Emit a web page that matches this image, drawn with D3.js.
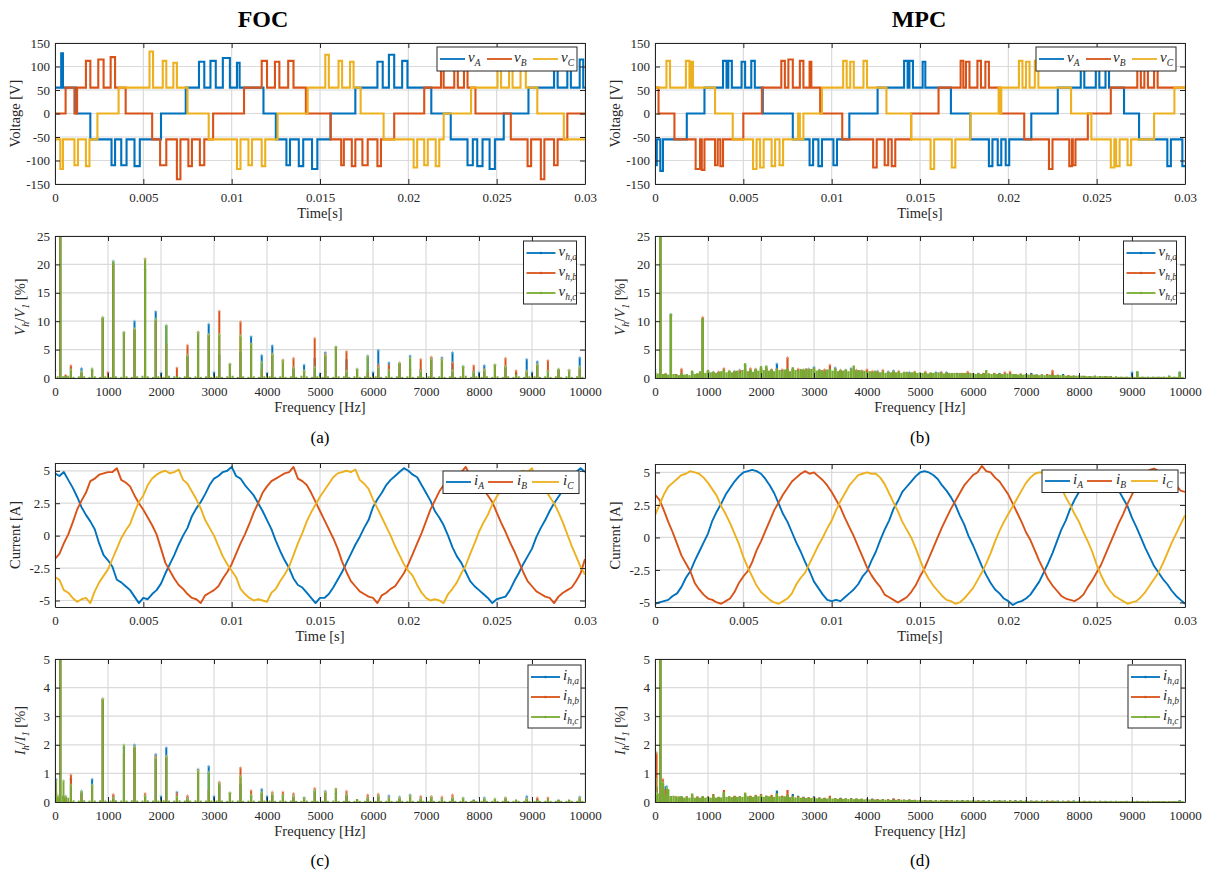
<!DOCTYPE html>
<html>
<head>
<meta charset="utf-8">
<script src="https://cdn.jsdelivr.net/npm/d3@7"></script>
<style>
  body { margin: 0; background: #fff; }
  text { font-family: 'Liberation Serif', 'Times New Roman', Times, serif; }
</style>
</head>
<body>
<svg width="1213" height="877"></svg>
<script>
// ---------- tick labels ----------
const timeTicks = [0, 5, 10, 15, 20, 25, 30];               // ms
const timeTickLabels = ["0", "0.005", "0.01", "0.015", "0.02", "0.025", "0.03"];
const voltTicks = [-150, -100, -50, 0, 50, 100, 150];
const curTicks = [-5, -2.5, 0, 2.5, 5];
const freqTicks = [0, 1000, 2000, 3000, 4000, 5000, 6000, 7000, 8000, 9000, 10000];
const vSpecTicks = [0, 5, 10, 15, 20, 25];
const iSpecTicks = [0, 1, 2, 3, 4, 5];

// ---------- phase voltages, [time ms, level V] switching points ----------
const focVoltA = [[0,55],[0.35,128],[0.45,55],[1.2,0],[2.0,-55],[3.2,-110],[3.4,-55],[3.75,-110],[4.05,-55],[4.5,-112],[4.8,-55],[6.0,0],[7.4,55],[8.15,110],[8.45,55],[8.8,112],[9.1,55],[9.5,118],[9.9,55],[10.3,108],[10.45,55],[11.8,0],[12.5,-55],[13.1,-110],[13.3,-55],[13.8,-112],[14.05,-55],[14.55,-118],[14.85,-55],[15.6,0],[17.0,55],[18.25,110],[18.55,55],[18.9,125],[19.2,55],[19.65,112],[19.95,55],[21.3,0],[22.4,-55],[23.35,-110],[23.65,-55],[23.9,-112],[24.2,-55],[24.6,-118],[24.9,-55],[25.4,0],[26.8,55],[28.25,110],[28.45,55],[29.0,112],[29.2,55],[29.7,115],[29.9,55]];
const focVoltB = [[0,0],[0.6,55],[1.1,0],[1.25,55],[1.75,112],[2.0,55],[2.45,115],[2.75,55],[3.15,120],[3.4,55],[4.0,0],[5.5,-55],[5.95,-110],[6.3,-55],[6.9,-140],[7.1,-55],[7.55,-112],[7.75,-55],[8.2,-110],[8.45,-55],[8.95,0],[10.7,55],[11.7,112],[12.0,55],[12.45,110],[12.7,55],[13.2,112],[13.5,55],[14.2,0],[15.6,-55],[16.2,-110],[16.35,-55],[16.8,-112],[17.0,-55],[17.4,-110],[17.7,-55],[18.25,-112],[18.45,-55],[19.2,0],[20.9,55],[21.85,110],[22.0,55],[22.6,112],[22.8,55],[23.15,110],[23.35,55],[23.8,0],[25.8,-55],[26.75,-112],[26.95,-55],[27.5,-140],[27.7,-55],[28.25,-110],[28.45,-55],[29.0,0]];
const focVoltC = [[0,-55],[0.3,-118],[0.45,-55],[1.1,-110],[1.3,-55],[1.75,-112],[1.95,-55],[2.4,0],[3.6,55],[5.35,132],[5.55,55],[6.1,112],[6.3,55],[6.7,108],[6.9,55],[7.5,0],[8.7,-55],[10.3,-118],[10.5,-55],[10.95,-110],[11.15,-55],[11.7,-112],[11.9,-55],[12.6,0],[14.3,55],[15.3,125],[15.5,55],[16.05,112],[16.25,55],[16.7,110],[16.9,55],[17.3,0],[18.6,-55],[20.3,-115],[20.5,-55],[20.9,-110],[21.1,-55],[21.55,-112],[21.75,-55],[22.0,0],[23.55,55],[25.05,112],[25.25,55],[25.7,115],[25.9,55],[26.35,110],[26.65,55],[27.3,0],[28.8,-55]];

const mpcVoltA = [[0,-110],[0.1,-55],[0.3,-122],[0.45,-55],[1.8,0],[2.8,55],[3.85,112],[4.05,55],[4.15,112],[4.35,55],[4.9,110],[5.1,55],[5.45,112],[5.65,55],[6.1,0],[7.8,-55],[8.75,-110],[8.95,-55],[9.25,-112],[9.45,-55],[10.1,-110],[10.3,-55],[11.0,0],[12.6,55],[14.1,112],[14.3,55],[14.4,112],[14.6,55],[15.15,110],[15.3,55],[16.75,0],[17.85,-55],[18.9,-112],[19.1,-55],[19.4,-110],[19.6,-55],[19.85,-110],[20.05,-55],[21.3,0],[22.8,55],[24.1,112],[24.3,55],[24.95,110],[25.15,55],[25.5,112],[25.7,55],[26.55,0],[27.4,-55],[29.0,-112],[29.2,-55],[29.85,-112]];
const mpcVoltB = [[0,55],[0.2,0],[1.1,-55],[2.3,-118],[2.55,-55],[2.65,-120],[2.8,-55],[3.4,-110],[3.55,-55],[3.7,-112],[3.85,-55],[5.0,0],[6.05,55],[7.15,112],[7.35,55],[7.55,115],[7.8,55],[8.2,112],[8.4,55],[8.75,110],[8.85,55],[9.35,0],[10.6,-55],[12.35,-115],[12.55,-55],[13.0,-110],[13.2,-55],[13.4,-112],[13.6,-55],[14.5,0],[16.05,55],[17.3,112],[17.45,55],[17.6,110],[17.8,55],[18.25,112],[18.45,55],[18.7,110],[18.9,55],[19.55,0],[20.9,-55],[22.3,-118],[22.5,-55],[23.45,-112],[23.6,-55],[23.65,-110],[23.8,-55],[24.5,0],[25.8,55],[27.3,112],[27.5,55],[27.7,110],[27.9,55],[28.25,112],[28.45,55]];
const mpcVoltC = [[0,55],[0.65,112],[0.85,55],[1.75,112],[1.95,55],[2.05,110],[2.15,55],[3.4,0],[4.4,-55],[5.55,-118],[5.75,-55],[5.95,-115],[6.15,-55],[6.6,-112],[6.8,-55],[7.05,-110],[7.25,-55],[8.1,0],[8.2,-55],[8.4,0],[9.45,55],[10.65,112],[10.85,55],[11.05,110],[11.25,55],[11.8,112],[12.0,55],[13.1,0],[14.5,-55],[15.6,-118],[15.8,-55],[16.8,-115],[17.0,-55],[17.85,0],[19.45,55],[19.55,0],[19.6,55],[20.6,112],[20.8,55],[21.0,110],[21.2,55],[21.5,112],[21.7,55],[23.55,0],[24.7,-55],[25.8,-115],[26.0,-55],[26.1,-112],[26.3,-55],[26.75,-110],[26.95,-55],[28.25,0],[29.4,55]];

// ---------- phase currents, one sample every 0.25 ms (A) ----------
const currentStepMs = 0.25;
const focCurA = [4.8,4.6,4.9,4.3,3.7,3.0,2.2,1.6,1.1,0.5, -0.6,-1.5,-1.9,-2.4,-3.4,-3.6,-3.9,-4.2,-4.7,-5.2, -4.8,-4.9,-4.5,-4.2,-3.7,-2.9,-2.2,-1.5,-0.7,0.0, 0.6,1.5,2.1,2.6,3.2,3.9,4.4,4.6,4.9,5.0, 5.3,4.6,4.4,3.9,3.5,3.1,2.5,1.9,1.2,0.5, -0.4,-1.2,-1.9,-2.5,-3.3,-3.8,-4.0,-4.4,-4.8,-5.2, -4.8,-4.8,-4.5,-4.0,-3.4,-2.8,-2.1,-1.4,-0.7,-0.1, 0.6,1.2,2.2,2.8,3.3,3.9,4.3,4.6,4.9,5.2, 5.0,4.7,4.5,3.9,3.3,2.7,1.9,1.4,0.8,0.0, -0.9,-1.6,-2.1,-2.8,-3.5,-3.9,-4.2,-4.5,-4.8,-5.2, -4.9,-4.8,-4.7,-4.2,-3.5,-2.9,-2.2,-1.6,-1.0,-0.1, 0.6,1.2,1.9,2.5,3.0,3.5,4.0,4.5,4.9,5.2, 4.9];
const focCurB = [-1.8,-1.4,-0.6,0.1,1.0,2.0,2.7,3.3,4.2,4.4, 4.7,4.8,4.9,4.9,5.2,4.3,4.1,3.8,3.1,2.5, 2.0,1.4,0.8,0.1,-1.0,-2.1,-2.7,-3.3,-3.8,-4.1, -4.5,-4.8,-4.9,-5.2,-4.6,-4.4,-4.2,-3.9,-3.3,-2.8, -2.2,-1.4,-0.6,0.1,0.9,1.8,2.5,3.3,3.8,4.2, 4.4,4.6,4.8,4.9,5.3,4.4,4.2,3.9,3.3,2.6, 1.9,1.2,0.5,-0.2,-1.0,-2.0,-2.8,-3.5,-3.9,-4.3, -4.5,-4.7,-4.8,-5.2,-4.6,-4.4,-4.1,-3.9,-3.4,-2.9, -2.2,-1.4,-0.6,0.2,1.1,2.0,2.7,3.4,3.9,4.3, 4.5,4.7,4.9,5.3,4.6,4.3,4.1,3.6,3.1,2.6, 1.8,1.0,0.3,-0.5,-1.2,-2.0,-2.8,-3.5,-3.9,-4.3, -4.5,-4.7,-4.8,-5.2,-4.7,-4.4,-4.2,-4.0,-3.5,-2.9, -1.8];
const focCurC = [-3.2,-3.4,-4.2,-4.4,-4.8,-5.1,-4.9,-4.8,-5.2,-4.3, -3.6,-3.1,-2.6,-1.8,-1.0,-0.2,0.4,0.9,1.8,2.6, 3.1,3.9,4.4,4.7,4.9,5.0,4.8,4.9,5.1,4.3, 4.0,3.4,2.8,2.1,1.2,0.6,0.0,-0.8,-1.6,-2.2, -2.7,-3.2,-4.1,-4.5,-4.8,-5.0,-4.9,-5.0,-5.1,-4.4, -4.1,-3.5,-3.0,-2.4,-1.5,-0.6,0.2,1.1,1.8,2.4, 3.0,3.5,4.0,4.5,4.8,4.9,5.0,4.9,5.1,4.3, 4.0,3.6,2.8,2.1,1.4,0.7,0.0,-0.8,-1.5,-2.2, -2.7,-3.1,-3.8,-4.4,-4.8,-5.0,-4.9,-5.0,-5.2,-4.5, -4.1,-3.6,-2.9,-2.3,-1.4,-0.6,0.3,1.0,1.6,2.4, 3.0,3.5,4.1,4.6,4.8,4.9,5.0,4.9,5.2,4.2, 3.9,3.6,3.0,2.5,1.8,1.0,0.1,-0.8,-1.6,-2.4, -3.0];
const mpcCurA = [-5.1,-5.0,-4.9,-4.8,-4.5,-4.3,-3.8,-3.1,-2.6,-1.8, -1.1,-0.4,0.3,1.3,2.0,2.6,3.3,3.8,4.3,4.7, 5.0,5.1,5.2,5.1,4.9,4.5,4.0,3.4,2.6,1.8, 1.2,0.4,-0.4,-1.1,-1.9,-2.6,-3.4,-3.9,-4.4,-4.8, -4.9,-4.8,-4.9,-4.6,-4.3,-4.0,-3.6,-3.0,-2.6,-1.8, -1.1,-0.2,0.6,1.3,2.2,2.8,3.5,3.9,4.3,4.7, 5.0,5.1,5.0,4.8,4.5,4.0,3.6,3.1,2.5,1.7, 1.0,0.1,-0.6,-1.4,-2.2,-2.9,-3.5,-4.0,-4.3,-4.7, -4.9,-5.2,-5.0,-4.9,-4.7,-4.4,-3.9,-3.4,-2.7,-2.0, -1.2,-0.3,0.6,1.3,2.2,2.9,3.5,3.9,4.3,4.7, 4.9,5.0,4.8,4.5,4.1,3.6,3.0,2.4,1.5,0.8, 0.0,-0.8,-1.5,-2.2,-2.7,-3.2,-3.6,-4.1,-4.5,-4.8, -5.1];
const mpcCurB = [3.3,2.9,2.1,1.2,0.4,-0.5,-1.4,-2.0,-2.6,-3.5, -4.0,-4.4,-4.7,-4.8,-5.0,-5.1,-4.9,-4.7,-4.2,-3.5, -3.0,-2.6,-1.9,-1.0,-0.3,0.5,1.3,2.1,2.7,3.3, 3.8,4.3,4.6,4.9,5.1,4.9,5.0,4.7,4.4,4.0, 3.5,2.9,2.3,1.5,0.8,0.1,-0.7,-1.5,-2.3,-2.9, -3.4,-3.8,-4.4,-4.6,-4.8,-5.0,-4.8,-4.6,-4.2,-3.7, -3.0,-2.4,-1.6,-0.8,0.0,0.8,1.5,2.2,2.8,3.4, 4.0,4.4,4.8,5.0,5.5,5.1,5.0,4.6,4.3,3.8, 3.3,2.6,1.9,1.2,0.4,-0.2,-1.0,-1.8,-2.5,-3.2, -3.7,-4.1,-4.5,-4.7,-4.8,-4.9,-4.7,-4.4,-3.8,-3.3, -2.7,-2.1,-1.3,-0.5,0.3,1.1,1.8,2.6,3.3,3.9, 4.5,4.9,5.2,5.3,5.1,4.9,4.6,4.3,4.0,3.6, 3.5];
const mpcCurC = [1.7,2.5,3.3,3.9,4.2,4.5,4.8,4.9,5.1,5.0, 4.9,4.6,4.2,3.7,3.2,2.4,1.8,1.1,0.3,-0.5, -1.5,-2.3,-3.0,-3.7,-4.2,-4.5,-4.8,-5.0,-5.1,-4.9, -4.7,-4.3,-3.6,-3.1,-2.7,-2.0,-1.3,-0.6,0.0,0.7, 1.3,2.1,2.8,3.4,4.0,4.4,4.8,4.9,5.0,4.9, 4.9,4.6,4.1,3.4,2.7,2.0,1.2,0.6,0.0,-0.8, -1.7,-2.6,-3.2,-3.7,-4.1,-4.5,-4.8,-4.9,-5.1,-5.0, -4.7,-4.3,-3.9,-3.3,-2.7,-2.0,-1.2,-0.3,0.5,1.2, 1.8,2.4,3.0,3.6,4.2,4.6,4.9,5.0,5.0,4.9, 4.7,4.4,3.8,3.1,2.5,1.8,1.2,0.4,-0.3,-1.1, -2.1,-2.9,-3.6,-4.1,-4.5,-4.7,-4.9,-5.1,-5.0,-4.9, -4.6,-4.2,-3.7,-3.2,-2.7,-2.0,-1.2,-0.4,0.3,1.0, 1.7];

// ---------- FOC voltage spectrum (% of fundamental) ----------
const focVSpecFreq = [0,100,200,300,500,700,900,1000,1100,1300,1500,1700,1900,2000,2100,2300,2500,2700,2900,3000,3100,3300,3500,3700,3900,4000,4100,4300,4500,4700,4900,5000,5100,5300,5500,5700,5900,6000,6100,6300,6500,6700,6900,7100,7300,7500,7700,7900,8000,8100,8300,8500,8700,8900,9000,9100,9300,9500,9700,9900];
const focVSpecA = [1.4,100,0.3,1.8,1.7,1.4,10.6,0.9,20.6,8.0,10.0,19.0,11.7,0.9,9.2,0.4,4.0,8.0,9.5,1.0,4.0,2.4,4.5,7.3,4.0,0.9,5.7,3.0,1.8,2.3,3.4,0.8,4.5,5.4,3.2,1.5,3.9,1.0,4.9,2.7,2.5,3.9,1.5,3.5,3.6,4.5,2.0,1.2,1.0,2.2,2.2,2.0,0.8,3.3,1.0,2.9,1.2,1.5,1.3,3.6];
const focVSpecB = [0.3,100,0.6,2.2,1.0,1.2,10.5,1.0,20.0,7.8,8.5,21.0,10.0,0.3,6.0,1.8,5.8,8.1,7.5,0.3,11.8,2.3,9.9,6.0,1.5,0.4,4.2,3.2,3.5,1.2,7.0,0.3,4.2,5.4,4.7,1.4,1.0,0.3,2.3,2.3,2.6,1.5,3.3,3.7,3.3,2.7,1.9,2.2,0.3,1.5,2.2,3.5,1.3,1.2,0.3,2.4,3.1,1.5,1.4,1.5];
const focVSpecC = [0.3,100,0.4,1.5,1.1,1.7,10.7,0.2,20.5,8.1,8.7,20.9,10.4,0.2,9.3,0.3,4.0,8.0,7.7,0.2,7.7,2.5,7.5,6.0,2.8,0.2,4.2,3.0,1.8,1.3,1.9,0.2,4.0,5.5,1.2,1.6,3.8,0.2,1.9,1.4,2.7,3.6,1.3,3.4,3.3,1.3,2.1,1.1,0.2,1.4,2.4,2.0,0.6,1.2,0.2,2.4,1.2,1.6,1.3,2.0];
// low-level floor between harmonics (bins at 50, 150, 250 ... Hz), phase c
const focVFloor = [0.3,0.3,0.4,0.2,0.3,0.3,0.2,0.3,0.2,0.3, 0.2,0.3,0.2,0.3,0.2,0.3,0.4,0.3,0.2,0.3, 0.2,0.4,0.3,0.2,0.3,0.2,0.3,0.2,0.3,0.2, 0.3,0.2,0.3,0.4,0.2,0.3,0.2,0.3,0.2,0.3, 0.3,0.2,0.3,0.2,0.3,0.2,0.4,0.3,0.2,0.3, 0.2,0.3,0.2,0.3,0.3,0.2,0.3,0.2,0.3,0.2, 0.3,0.2,0.3,0.2,0.3,0.2,0.3,0.2,0.3,0.2, 0.3,0.2,0.3,0.2,0.3,0.2,0.3,0.4,0.2,0.3, 0.2,0.3,0.2,0.3,0.2,0.3,0.2,0.3,0.2,0.3, 0.3,0.2,0.3,0.2,0.3,0.2,0.3,0.2,0.3,0.2];

// ---------- MPC voltage spectrum ----------
// phase c on 50 Hz bins (0, 50, 100 ... 9950 Hz)
const mpcVGrassC = [0.6,0.8,100,0.7,0.8,0.6,11.3,0.7,0.6,0.5, 0.9,0.6,0.6,0.5,1.3,0.7,0.8,1.2,10.5,0.9, 1.4,1.0,1.1,0.9,1.0,1.2,1.4,1.0,1.3,1.0, 1.2,1.3,1.0,1.4,2.6,1.2,1.5,1.1,1.6,1.3, 2.1,1.4,2.2,1.3,1.5,1.2,1.6,1.4,1.3,1.5, 1.7,1.2,1.9,1.4,1.3,1.6,1.5,1.7,1.4,1.6, 1.8,1.3,1.5,1.4,1.2,1.5,1.6,1.3,1.7,1.2, 1.4,1.3,1.5,1.2,1.6,2.2,1.3,1.4,1.2,1.3, 1.1,1.2,1.0,1.3,1.1,1.0,1.2,0.9,1.1,1.0, 1.2,1.0,1.1,0.9,1.0,1.1,0.9,1.0,1.1,0.9, 1.0,0.9,1.0,0.8,1.0,0.9,0.9,1.0,0.9,0.8, 1.0,0.9,0.8,0.9,0.8,0.9,0.8,0.9,0.8,0.9, 0.8,0.7,0.9,0.7,0.8,1.4,0.8,0.7,0.8,0.7, 0.8,0.7,0.7,0.8,0.7,0.7,0.7,0.6,0.7,0.6, 0.7,0.6,0.6,0.6,0.6,0.5,0.6,0.5,0.5,0.6, 0.5,0.5,0.5,0.5,0.5,0.4,0.4,0.4,0.4,0.4, 0.4,0.4,0.3,0.3,0.3,0.3,0.4,0.3,0.3,0.3, 0.3,0.3,0.3,0.2,0.3,0.2,0.2,0.2,0.2,0.2, 0.2,0.2,1.2,0.2,0.2,0.2,0.2,0.2,0.2,0.2, 0.2,0.2,0.2,0.2,0.4,0.2,0.2,0.2,1.1,0.2];
// phases a and b on 100 Hz bins (0, 100 ... 9900 Hz)
const mpcVGrassA = [1.5,100,0.7,11.2,0.6,0.8,0.6,1.0,0.7,10.3, 1.2,1.0,1.0,1.3,1.1,1.2,1.4,2.2,1.3,1.4, 1.7,1.8,1.4,2.5,1.3,1.5,1.6,1.2,1.4,1.6, 1.9,1.3,1.2,1.4,1.8,1.3,1.4,1.7,1.3,1.2, 1.1,1.0,1.2,1.0,1.1,1.3,1.0,0.9,1.0,0.9, 0.9,0.9,0.8,1.0,1.0,1.0,0.8,0.9,0.8,0.9, 0.8,0.9,0.8,0.7,0.8,0.9,0.7,0.8,0.7,0.6, 0.7,0.9,0.6,0.6,0.5,0.6,0.5,0.7,0.4,0.4, 0.4,0.3,0.3,0.4,0.3,0.3,0.3,0.2,0.2,0.2, 1.0,1.0,0.2,0.2,0.2,0.2,0.2,0.4,0.2,1.0];
const mpcVGrassB = [1.0,100,0.8,11.0,0.7,1.6,0.6,0.9,0.8,10.7, 1.1,1.0,1.1,1.7,1.2,1.1,1.3,1.5,1.7,1.6, 1.5,1.6,1.5,1.6,1.5,3.6,1.5,1.6,1.4,1.5, 1.6,1.4,1.5,2.3,1.5,1.4,1.3,1.5,1.4,1.3, 1.5,1.2,1.1,1.4,1.0,1.1,1.2,1.0,0.9,1.1, 0.9,1.1,0.9,0.9,1.0,0.9,0.8,0.8,0.9,1.1, 0.8,0.8,0.9,0.8,0.9,0.8,1.0,1.1,0.7,0.8, 0.7,0.7,0.6,0.6,0.7,1.3,0.6,0.5,0.5,0.4, 0.4,0.4,0.3,0.3,0.3,0.3,0.3,0.2,0.2,0.2, 0.3,0.3,0.2,0.2,0.2,0.2,0.2,0.3,0.2,0.3];

// ---------- FOC current spectrum ----------
const focISpecFreq = [20,60,100,160,200,300,500,700,900,1100,1300,1500,1700,1900,2000,2100,2300,2500,2700,2900,3000,3100,3300,3500,3700,3900,4000,4100,4300,4500,4700,4900,5100,5300,5500,5700,5900,6100,6300,6500,6700,6900,7100,7300,7500,7700,7900,8100,8300,8500,8700,8900,9100,9300,9500,9700,9900];
const focISpecA = [0.8,0.2,100,0.2,0.2,0.8,0.38,0.8,3.6,0.2,1.9,2.0,0.2,1.67,0.2,1.9,0.35,0.15,1.15,1.25,0.2,0.65,0.3,0.6,0.2,0.45,0.2,0.2,0.25,0.2,0.15,0.4,0.38,0.3,0.25,0.1,0.15,0.2,0.22,0.18,0.25,0.12,0.15,0.12,0.15,0.12,0.08,0.15,0.1,0.12,0.08,0.2,0.1,0.08,0.08,0.07,0.18];
const focISpecB = [0.3,0.2,100,0.2,0.15,0.95,0.3,0.55,3.6,0.27,1.65,1.9,0.3,1.6,0.05,1.6,0.3,0.22,1.1,0.4,0.05,0.7,0.3,1.2,0.4,0.3,0.05,0.35,0.35,0.3,0.12,0.48,0.35,0.45,0.38,0.08,0.25,0.28,0.15,0.12,0.2,0.2,0.2,0.18,0.25,0.1,0.07,0.1,0.1,0.15,0.07,0.12,0.15,0.15,0.07,0.08,0.12];
const focISpecC = [0.75,0.2,100,0.75,0.2,0.6,0.38,0.6,3.6,0.15,2.0,1.95,0.22,1.55,0.05,1.6,0.2,0.12,1.1,1.05,0.05,0.65,0.33,0.9,0.25,0.35,0.05,0.3,0.25,0.2,0.15,0.4,0.35,0.47,0.25,0.1,0.15,0.22,0.15,0.15,0.22,0.12,0.18,0.12,0.15,0.15,0.08,0.12,0.12,0.14,0.08,0.12,0.08,0.1,0.08,0.08,0.15];
const focIFloor = [0.2,0.2,0.15,0.06,0.05,0.06,0.05,0.05,0.06,0.05, 0.05,0.06,0.05,0.05,0.06,0.05,0.05,0.06,0.05,0.05, 0.06,0.05,0.05,0.06,0.05,0.05,0.06,0.05,0.05,0.05, 0.05,0.05,0.04,0.05,0.05,0.04,0.05,0.05,0.04,0.05, 0.05,0.04,0.05,0.04,0.05,0.04,0.04,0.05,0.04,0.04, 0.04,0.04,0.05,0.04,0.04,0.04,0.04,0.04,0.04,0.04, 0.04,0.04,0.04,0.04,0.04,0.04,0.04,0.04,0.04,0.04, 0.04,0.04,0.04,0.04,0.04,0.04,0.04,0.04,0.04,0.04, 0.04,0.04,0.04,0.04,0.04,0.04,0.04,0.04,0.04,0.04, 0.04,0.04,0.04,0.04,0.04,0.04,0.04,0.04,0.04,0.04];

// ---------- MPC current spectrum ----------
const mpcISpecFreq = [15,30,150,220];
const mpcISpecA = [1.75,0.5,0.6,0.55];
const mpcISpecB = [0.6,1.7,0.8,0.3];
const mpcISpecC = [0.8,0.3,0.7,0.5];
const mpcIGrassC = [0.3,0.3,100,0.7,0.25,0.45,0.2,0.22,0.18,0.2, 0.2,0.15,0.18,0.15,0.3,0.15,0.17,0.15,0.2,0.15, 0.18,0.15,0.25,0.15,0.18,0.16,0.35,0.18,0.2,0.17, 0.2,0.18,0.2,0.18,0.33,0.2,0.2,0.18,0.22,0.2, 0.25,0.18,0.22,0.2,0.2,0.18,0.3,0.2,0.18,0.2, 0.25,0.17,0.2,0.16,0.18,0.15,0.16,0.14,0.15,0.14, 0.15,0.13,0.14,0.12,0.13,0.12,0.15,0.12,0.13,0.11, 0.12,0.11,0.12,0.1,0.12,0.1,0.11,0.1,0.12,0.09, 0.1,0.09,0.08,0.09,0.08,0.08,0.09,0.08,0.08,0.07, 0.08,0.08,0.07,0.08,0.07,0.07,0.08,0.07,0.07,0.06, 0.06,0.06,0.05,0.06,0.06,0.05,0.06,0.05,0.05,0.06, 0.05,0.06,0.05,0.05,0.06,0.05,0.05,0.05,0.06,0.05, 0.05,0.05,0.04,0.05,0.05,0.04,0.05,0.04,0.05,0.05, 0.04,0.05,0.04,0.04,0.05,0.04,0.04,0.04,0.05,0.04, 0.04,0.04,0.03,0.04,0.04,0.03,0.04,0.04,0.03,0.04, 0.03,0.04,0.03,0.03,0.04,0.03,0.03,0.03,0.04,0.03, 0.03,0.03,0.03,0.03,0.03,0.03,0.03,0.03,0.03,0.03, 0.03,0.03,0.03,0.03,0.03,0.03,0.03,0.03,0.03,0.03, 0.03,0.03,0.03,0.03,0.03,0.03,0.03,0.03,0.03,0.03, 0.03,0.03,0.03,0.03,0.03,0.03,0.03,0.03,0.05,0.03];
const mpcIGrassA = [0.2,100,0.55,0.2,0.15,0.2,0.18,0.25,0.15,0.2, 0.18,0.2,0.15,0.3,0.15,0.2,0.18,0.25,0.2,0.2, 0.22,0.2,0.2,0.4,0.2,0.25,0.28,0.22,0.18,0.15, 0.2,0.15,0.14,0.18,0.13,0.15,0.12,0.14,0.12,0.1, 0.1,0.12,0.09,0.1,0.08,0.12,0.09,0.08,0.08,0.07, 0.07,0.06,0.07,0.06,0.06,0.07,0.06,0.06,0.07,0.06, 0.06,0.05,0.06,0.06,0.05,0.06,0.05,0.05,0.06,0.05, 0.05,0.05,0.04,0.05,0.05,0.04,0.05,0.04,0.04,0.05, 0.04,0.04,0.04,0.03,0.04,0.04,0.03,0.04,0.03,0.03, 0.03,0.04,0.03,0.03,0.03,0.03,0.03,0.03,0.03,0.06];
const mpcIGrassB = [0.3,100,0.45,0.18,0.2,0.18,0.2,0.25,0.2,0.18, 0.2,0.28,0.18,0.42,0.2,0.22,0.2,0.3,0.22,0.25, 0.28,0.22,0.25,0.3,0.22,0.42,0.22,0.2,0.18,0.17, 0.18,0.16,0.15,0.22,0.13,0.14,0.12,0.13,0.12,0.11, 0.12,0.1,0.1,0.09,0.1,0.12,0.1,0.08,0.09,0.08, 0.07,0.07,0.06,0.07,0.06,0.07,0.06,0.06,0.06,0.06, 0.05,0.06,0.05,0.05,0.06,0.05,0.05,0.06,0.05,0.05, 0.05,0.04,0.05,0.04,0.05,0.05,0.04,0.04,0.05,0.04, 0.04,0.04,0.03,0.04,0.04,0.03,0.04,0.03,0.03,0.04, 0.03,0.03,0.03,0.04,0.03,0.03,0.03,0.03,0.03,0.04];

// ---------- drawing ----------
const svg = d3.select("svg");
const ink = "#262626";
const colA = "#0072BD", colB = "#D95319", colC = "#EDB120", colG = "#77AC30";
let clipN = 0;

function panel(left, top, w, h, xd, yd) {
  const g = svg.append("g").attr("transform", `translate(${left},${top})`);
  const x = d3.scaleLinear().domain(xd).range([0, w]);
  const y = d3.scaleLinear().domain(yd).range([h, 0]);
  const id = "clip" + (clipN++);
  g.append("clipPath").attr("id", id).append("rect").attr("width", w).attr("height", h);
  const grid = g.append("g");
  const plot = g.append("g").attr("clip-path", `url(#${id})`);
  return { g, x, y, w, h, left, top, grid, plot };
}

function axes(p, xt, xl, yt, yl) {
  p.grid.selectAll("line.gx").data(xt).join("line").attr("class", "gx")
    .attr("x1", d => p.x(d)).attr("x2", d => p.x(d)).attr("y1", 0).attr("y2", p.h)
    .attr("stroke", "#dadada").attr("stroke-width", 1.2);
  p.grid.selectAll("line.gy").data(yt).join("line").attr("class", "gy")
    .attr("y1", d => p.y(d)).attr("y2", d => p.y(d)).attr("x1", 0).attr("x2", p.w)
    .attr("stroke", "#dadada").attr("stroke-width", 1.2);
  const ax = p.g.append("g");
  ax.append("g").attr("transform", `translate(0,${p.h})`)
    .call(d3.axisBottom(p.x).tickValues(xt).tickFormat((d, i) => xl[i]).tickSizeInner(-5).tickSizeOuter(0).tickPadding(9));
  ax.append("g")
    .call(d3.axisTop(p.x).tickValues(xt).tickFormat("").tickSizeInner(-5).tickSizeOuter(0));
  ax.append("g")
    .call(d3.axisLeft(p.y).tickValues(yt).tickFormat((d, i) => yl[i]).tickSizeInner(-5).tickSizeOuter(0).tickPadding(5));
  ax.append("g").attr("transform", `translate(${p.w},0)`)
    .call(d3.axisRight(p.y).tickValues(yt).tickFormat("").tickSizeInner(-5).tickSizeOuter(0));
  ax.selectAll(".domain, .tick line").attr("stroke", ink).attr("stroke-width", 1);
  ax.selectAll(".tick text").attr("fill", ink)
    .style("font-size", "13px").style("font-family", "'Liberation Serif','Times New Roman',serif");
}

function xTitle(p, txt) {
  svg.append("text").attr("x", p.left + p.w / 2).attr("y", p.top + p.h + 34)
    .attr("text-anchor", "middle").attr("fill", ink).style("font-size", "14.5px").text(txt);
}

function yTitle(p, x, parts) {
  const t = svg.append("text")
    .attr("transform", `translate(${x},${p.top + p.h / 2}) rotate(-90)`)
    .attr("text-anchor", "middle").attr("fill", ink).style("font-size", "14.5px");
  parts.forEach(q => {
    const s = t.append("tspan").text(q.t);
    if (q.it) s.style("font-style", "italic");
    if (q.fs) s.style("font-size", q.fs);
    if (q.dy) s.attr("dy", q.dy);
  });
}

function stepTrace(p, pts, color) {
  const d = pts.concat([[30, pts[pts.length - 1][1]]]);
  p.plot.append("path").datum(d)
    .attr("d", d3.line().x(q => p.x(q[0])).y(q => p.y(q[1])).curve(d3.curveStepAfter))
    .attr("fill", "none").attr("stroke", color).attr("stroke-width", 2.1);
}

function curTrace(p, vals, color) {
  p.plot.append("path").datum(vals)
    .attr("d", d3.line().x((v, i) => p.x(i * currentStepMs)).y(v => p.y(v)))
    .attr("fill", "none").attr("stroke", color).attr("stroke-width", 1.9).attr("stroke-linejoin", "round");
}

function stems(p, pts, color, width, markMin) {
  const g = p.plot.append("g");
  g.selectAll("line").data(pts).join("line")
    .attr("x1", d => p.x(d[0])).attr("x2", d => p.x(d[0]))
    .attr("y1", p.y(0)).attr("y2", d => p.y(d[1]))
    .attr("stroke", color).attr("stroke-width", width);
  if (markMin !== undefined) {
    const light = d3.interpolateRgb(color, "#ffffff")(0.35);
    const mk = pts.filter(d => d[1] >= markMin && d[1] < p.y.domain()[1]);
    g.selectAll("path.mk").data(mk).join("path").attr("class", "mk")
      .attr("d", d => {
        const cx = p.x(d[0]), cy = p.y(d[1]);
        return `M${cx - 1.5},${cy}H${cx + 1.5}M${cx},${cy - 1.5}V${cy + 1.5}`;
      })
      .attr("stroke", light).attr("stroke-width", 0.8).attr("opacity", 0.8);
  }
}

const pairs = (fs, vs) => fs.map((f, i) => [f, vs[i]]);
const binned = (vs, bw, off) => vs.map((v, i) => [off + i * bw, v]);

function lineLegend(x0, y0, w, h, items) {
  const g = svg.append("g");
  g.append("rect").attr("x", x0).attr("y", y0).attr("width", w).attr("height", h)
    .attr("fill", "#fff").attr("stroke", ink).attr("stroke-width", 1);
  items.forEach(it => {
    g.append("line").attr("x1", x0 + it.l0).attr("x2", x0 + it.l1)
      .attr("y1", y0 + it.ly).attr("y2", y0 + it.ly)
      .attr("stroke", it.c).attr("stroke-width", 1.8);
    if (it.dot) g.append("circle").attr("cx", x0 + (it.l0 + it.l1) / 2).attr("cy", y0 + it.ly).attr("r", 1.3).attr("fill", it.c);
    const t = g.append("text").attr("x", x0 + it.tx).attr("y", y0 + it.ly + 3).attr("fill", ink);
    t.append("tspan").text(it.v).style("font-style", "italic").style("font-size", "15px");
    t.append("tspan").text(it.s).style("font-style", "italic").style("font-size", "9.5px").attr("dy", 4);
  });
}

function voltLegend(x0) {
  lineLegend(x0, 47, 140, 24, [
    { c: colA, l0: 3, l1: 28, ly: 12, tx: 31, v: "v", s: "A" },
    { c: colB, l0: 50, l1: 75, ly: 12, tx: 77, v: "v", s: "B" },
    { c: colC, l0: 96, l1: 121, ly: 12, tx: 124, v: "v", s: "C" }
  ]);
}
function curLegend(x0, y0) {
  lineLegend(x0, y0, 136, 22.5, [
    { c: colA, l0: 3, l1: 28, ly: 11, tx: 31, v: "i", s: "A" },
    { c: colB, l0: 45, l1: 70, ly: 11, tx: 74, v: "i", s: "B" },
    { c: colC, l0: 89, l1: 116, ly: 11, tx: 120, v: "i", s: "C" }
  ]);
}
function specLegend(x0, y0, v, sx) {
  lineLegend(x0, y0, 53, 63, [
    { c: colA, l0: 3, l1: 32, ly: 12, tx: 35, v: v, s: sx + "a", dot: true },
    { c: colB, l0: 3, l1: 32, ly: 32, tx: 35, v: v, s: sx + "b", dot: true },
    { c: colG, l0: 3, l1: 32, ly: 52, tx: 35, v: v, s: sx + "c", dot: true }
  ]);
}

const volts = v => v.map(String);
const sides = [
  { left: 55, name: "FOC", tx: 263, va: focVoltA, vb: focVoltB, vc: focVoltC, curDom: [-5.5, 5.6], cur: [focCurA, focCurB, focCurC], curTop: 463, curH: 144, tLabel: "Time[s]", cLabel: "Time [s]" },
  { left: 655, name: "MPC", tx: 919, va: mpcVoltA, vb: mpcVoltB, vc: mpcVoltC, curDom: [-5.35, 5.65], cur: [mpcCurA, mpcCurB, mpcCurC], curTop: 464, curH: 143, tLabel: "Time[s]", cLabel: "Time[s]" }
];

sides.forEach((s, k) => {
  const pw = 530;
  // title
  svg.append("text").attr("x", s.tx).attr("y", 27).attr("text-anchor", "middle")
    .style("font-weight", "bold").style("font-size", "24px").attr("fill", "#000").text(s.name);

  // phase voltages
  const pv = panel(s.left, 43, pw, 141, [0, 30], [-150, 150]);
  stepTrace(pv, s.va, colA);
  stepTrace(pv, s.vb, colB);
  stepTrace(pv, s.vc, colC);
  axes(pv, timeTicks, timeTickLabels, voltTicks, volts(voltTicks));
  xTitle(pv, s.tLabel);
  yTitle(pv, s.left - 35, [{ t: "Voltage [V]" }]);
  voltLegend(s.left + 382 - (k ? 1 : 0));

  // voltage spectrum
  const ps = panel(s.left, 236, pw, 142, [0, 10000], [0, 25]);
  if (k === 0) {
    stems(ps, pairs(focVSpecFreq, focVSpecA), colA, 2, 0.8);
    stems(ps, pairs(focVSpecFreq, focVSpecB), colB, 2, 0.8);
    stems(ps, binned(focVFloor, 100, 50), colG, 2);
    stems(ps, pairs(focVSpecFreq, focVSpecC), colG, 2, 0.8);
  } else {
    stems(ps, binned(mpcVGrassA, 100, 0), colA, 2.2, 1.0);
    stems(ps, binned(mpcVGrassB, 100, 0), colB, 2.2, 1.0);
    stems(ps, binned(mpcVGrassC, 50, 0), colG, 2.4);
  }
  axes(ps, freqTicks, volts(freqTicks), vSpecTicks, volts(vSpecTicks));
  xTitle(ps, "Frequency [Hz]");
  yTitle(ps, s.left - 30, [
    { t: "V", it: true }, { t: "h", it: true, fs: "10px", dy: 4 }, { t: "/", dy: -4 },
    { t: "V", it: true }, { t: "1", it: true, fs: "10px", dy: 4 }, { t: " [%]", dy: -4 }
  ]);
  specLegend(s.left + 468.5, 241, "v", "h,");

  // phase currents
  const pc = panel(s.left, s.curTop, pw, s.curH, [0, 30], s.curDom);
  curTrace(pc, s.cur[0], colA);
  curTrace(pc, s.cur[1], colB);
  curTrace(pc, s.cur[2], colC);
  axes(pc, timeTicks, timeTickLabels, curTicks, volts(curTicks));
  xTitle(pc, s.cLabel);
  yTitle(pc, s.left - 35, [{ t: "Current [A]" }]);
  curLegend(s.left + 388 - (k ? 1 : 0), k ? 470 : 471);

  // current spectrum
  const pi = panel(s.left, 659, pw, 143, [0, 10000], [0, 5]);
  if (k === 0) {
    stems(pi, pairs(focISpecFreq, focISpecA), colA, 2, 0.12);
    stems(pi, pairs(focISpecFreq, focISpecB), colB, 2, 0.12);
    stems(pi, binned(focIFloor, 100, 50), colG, 2);
    stems(pi, pairs(focISpecFreq, focISpecC), colG, 2, 0.12);
  } else {
    stems(pi, binned(mpcIGrassA, 100, 0), colA, 2.2);
    stems(pi, pairs(mpcISpecFreq, mpcISpecA), colA, 2, 0.3);
    stems(pi, binned(mpcIGrassB, 100, 0), colB, 2.2);
    stems(pi, pairs(mpcISpecFreq, mpcISpecB), colB, 2, 0.3);
    stems(pi, binned(mpcIGrassC, 50, 0), colG, 2.4);
    stems(pi, pairs(mpcISpecFreq, mpcISpecC), colG, 2, 0.3);
  }
  axes(pi, freqTicks, volts(freqTicks), iSpecTicks, volts(iSpecTicks));
  xTitle(pi, "Frequency [Hz]");
  yTitle(pi, s.left - 30, [
    { t: "I", it: true }, { t: "h", it: true, fs: "10px", dy: 4 }, { t: "/", dy: -4 },
    { t: "I", it: true }, { t: "1", it: true, fs: "10px", dy: 4 }, { t: " [%]", dy: -4 }
  ]);
  specLegend(s.left + 473, 665, "i", "h,");

  // sub-figure letters
  svg.append("text").attr("x", s.left + 265).attr("y", 443).attr("text-anchor", "middle")
    .style("font-size", "17px").attr("fill", "#000").text(k ? "(b)" : "(a)");
  svg.append("text").attr("x", s.left + 265).attr("y", 866).attr("text-anchor", "middle")
    .style("font-size", "17px").attr("fill", "#000").text(k ? "(d)" : "(c)");
});
</script>
</body>
</html>
